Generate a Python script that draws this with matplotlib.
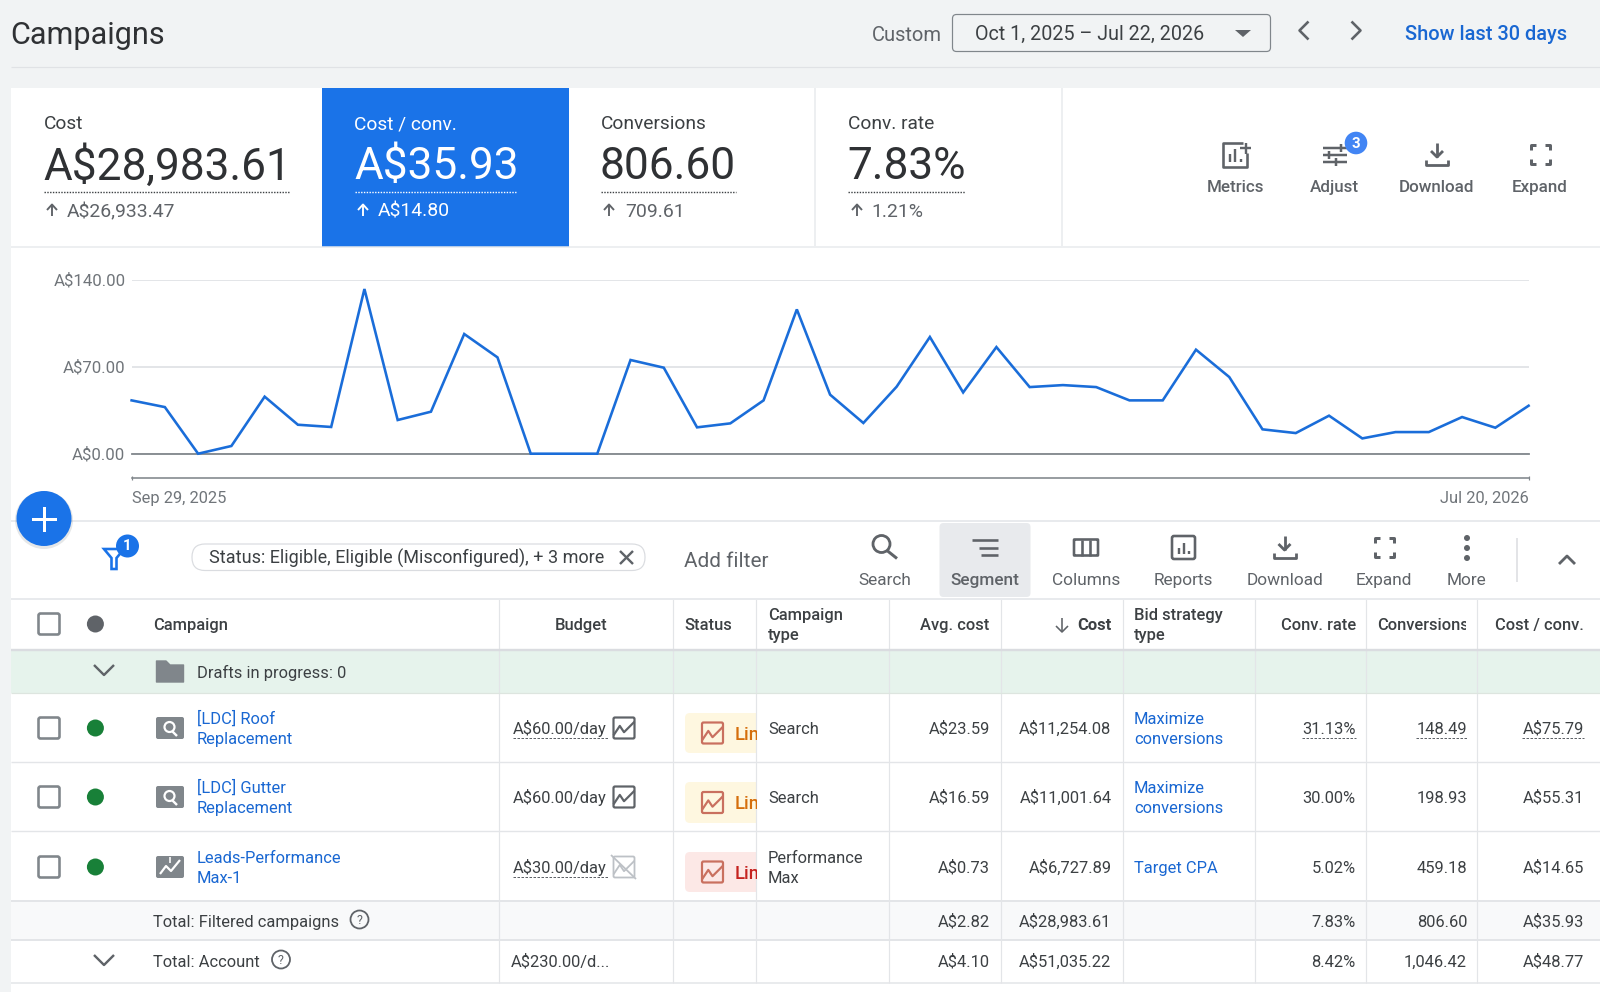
import matplotlib
matplotlib.use("Agg")
import matplotlib.pyplot as plt
from matplotlib.patches import Rectangle, Circle, FancyBboxPatch, Polygon

plt.rcParams['font.family'] = ['Roboto', 'DejaVu Sans']

# ---------- data ----------
chart_values = [42.9, 37.5, 0, 6.2, 45.9, 23.3, 21.5, 132.5, 27.1, 33.8, 96.3, 77.5, 0, 0, 0,
                75.4, 69.2, 21.2, 24.4, 42.9, 116.1, 47.5, 24.7, 53.9, 93.9, 49.3, 85.8, 53.6,
                55.2, 53.6, 42.9, 42.9, 83.7, 61.7, 19.6, 16.6, 30.6, 12.3, 17.4, 17.4, 29.5,
                20.9, 38.6]
y_ticks = [0, 70, 140]
y_tick_labels = ["A$0.00", "A$70.00", "A$140.00"]
x_tick_labels = ["Sep 29, 2025", "Jul 20, 2026"]

score_labels = ["Cost", "Cost / conv.", "Conversions", "Conv. rate"]
score_values = ["A$28,983.61", "A$35.93", "806.60", "7.83%"]
score_deltas = ["A$26,933.47", "A$14.80", "709.61", "1.21%"]

campaign_names = [["[LDC] Roof", "Replacement"], ["[LDC] Gutter", "Replacement"],
                  ["Leads-Performance", "Max-1"]]
budgets = ["A$60.00/day", "A$60.00/day", "A$30.00/day"]
campaign_types = [["Search"], ["Search"], ["Performance", "Max"]]
avg_costs = ["A$23.59", "A$16.59", "A$0.73"]
costs = ["A$11,254.08", "A$11,001.64", "A$6,727.89"]
bid_types = [["Maximize", "conversions"], ["Maximize", "conversions"], ["Target CPA"]]
conv_rates = ["31.13%", "30.00%", "5.02%"]
conversions = ["148.49", "198.93", "459.18"]
cost_per_conv = ["A$75.79", "A$55.31", "A$14.65"]
total_filtered = ["A$2.82", "A$28,983.61", "7.83%", "806.60", "A$35.93"]
total_account = ["A$4.10", "A$51,035.22", "8.42%", "1,046.42", "A$48.77"]

W, H = 1600, 992
fig = plt.figure(figsize=(W / 100, H / 100), dpi=100, facecolor="white")
ax = fig.add_axes([0, 0, 1, 1], zorder=0)
ax.set_xlim(0, W); ax.set_ylim(H, 0); ax.axis("off")

DARK, MID, GREY = "#2f3134", "#3c4043", "#5f6368"
BLUE, LINK = "#1a73e8", "#1967d2"
LINE = "#e8eaed"
PX = 0.72
FS = 16.5


def t(x, y, s, px=FS, c=MID, ha="left", weight="normal", clip=None):
    o = ax.text(x, y + 0.36 * px, s, fontsize=px * PX, color=c, ha=ha, va="baseline",
                fontweight=weight, zorder=5)
    if clip is not None:
        r = Rectangle((clip[0], clip[1]), clip[2] - clip[0], clip[3] - clip[1], transform=ax.transData)
        o.set_clip_on(True)
        o.set_clip_path(r)
    return o


def rect(x0, y0, x1, y1, c, z=1, **kw):
    ax.add_patch(Rectangle((x0, y0), x1 - x0, y1 - y0, fc=c, ec="none", zorder=z, **kw))


def rrect(x0, y0, x1, y1, r, fc="none", ec="none", lw=0, z=2):
    ax.add_patch(FancyBboxPatch((x0, y0), x1 - x0, y1 - y0, boxstyle=f"round,pad=0,rounding_size={r}",
                                fc=fc, ec=ec, lw=lw * PX, zorder=z))


def ln(xs, ys, c=GREY, lw=2.0, z=3, **kw):
    kw.setdefault("solid_capstyle", "butt")
    ax.plot(xs, ys, color=c, lw=lw * PX, zorder=z, **kw)


def dashed(x0, x1, y, c=GREY, lw=1.0, ds=(2.5, 1.5)):
    ax.plot([x0, x1], [y, y], color=c, lw=lw * PX, ls=(0, ds), zorder=4)


def circ(x, y, r, fc="none", ec="none", lw=0, z=3, alpha=None):
    ax.add_patch(Circle((x, y), r, fc=fc, ec=ec, lw=lw * PX, zorder=z, alpha=alpha))


# ---------- icons ----------
def icon_download(x, y, c=GREY):
    ln([x, x], [y - 11, y + 3], c, 2.8)
    ln([x - 6, x, x + 6], [y - 3, y + 3, y - 3], c, 2.8)
    ln([x - 11, x - 11, x + 11, x + 11], [y + 6, y + 11, y + 11, y + 6], c, 2.8)


def icon_expand(x, y, c=GREY):
    a, b = 9.5, 5
    for sx in (-1, 1):
        for sy in (-1, 1):
            ln([x + sx * a, x + sx * a, x + sx * (a - b)], [y + sy * (a - b), y + sy * a, y + sy * a], c, 3)


def icon_chevron(x, y, d, s=8, c=GREY, lw=2.4):
    if d == "left":
        ln([x + s / 2, x - s / 2, x + s / 2], [y - s, y, y + s], c, lw)
    elif d == "right":
        ln([x - s / 2, x + s / 2, x - s / 2], [y - s, y, y + s], c, lw)
    elif d == "down":
        ln([x - s, x, x + s], [y - s / 2, y + s / 2, y - s / 2], c, lw)
    else:
        ln([x - s, x, x + s], [y + s / 2, y - s / 2, y + s / 2], c, lw)


def icon_check(y):
    rrect(38.5, y - 10.5, 59.5, y + 10.5, 2, fc="white", ec="#80868b", lw=2.6)


def icon_mini_chart(x0, y0, x1, y1, c, lw=2.0):
    rrect(x0, y0, x1, y1, 1.5, ec=c, lw=lw, z=4)
    w, h = x1 - x0, y1 - y0
    ln([x0, x0 + .3 * w, x0 + .5 * w, x1], [y0 + .85 * h, y0 + .4 * h, y0 + .7 * h, y0 + .2 * h], c, lw, z=4)


def icon_help(x, y):
    circ(x, y, 9, ec="#5f6368", lw=1.8)
    ax.text(x, y + 0.5, "?", fontsize=12.5 * PX, color=GREY, ha="center", va="center", zorder=5)


# ---------- page chrome ----------
rect(0, 0, W, 88, "#f1f3f4")
rect(0, 0, 11, H, "#f1f3f4")
ln([11, W], [67, 67], "#e0e2e5", 1.2)
t(10.5, 33, "Campaigns", 30.6, DARK)
t(942, 33.5, "Custom", 20.2, GREY, ha="right")
rrect(952.5, 14.5, 1270.5, 51.5, 4, fc="#f1f3f4", ec="#80868b", lw=1.2)
t(975, 33, "Oct 1, 2025 – Jul 22, 2026", 19.8, MID)
ax.add_patch(Polygon([[1235, 30], [1251, 30], [1243, 37]], fc=GREY, ec="none", zorder=4))
icon_chevron(1304, 30.5, "left", 9, GREY, 2.6)
icon_chevron(1356, 30.5, "right", 9, GREY, 2.6)
t(1567, 32.5, "Show last 30 days", 20, LINK, ha="right", weight="medium")

# ---------- score cards ----------
rect(322, 88, 568.5, 246.5, BLUE, z=2)
for x in (815, 1062):
    ln([x, x], [88, 246], LINE, 1.5)
ln([11, W], [246.5, 246.5], LINE, 1.5)
card_x = [44, 355, 601, 848]
card_end = [290, 517, 736, 965]
arrow_x = [52, 363, 609, 857]
delta_x = [67, 378, 625.5, 871.5]
for i, lab in enumerate(score_labels):
    active = i == 1
    c1 = "white" if active else MID
    c2 = "white" if active else DARK
    c3 = "white" if active else GREY
    t(card_x[i] - 0.5, 122.5, lab, 19.2, c1)
    t(card_x[i] - 1, 163.5, score_values[i], 44.3, c2)
    dashed(card_x[i], card_end[i], 192, "white" if active else "#3c4043", 1.4, (1, 1))
    ln([arrow_x[i], arrow_x[i]], [216, 205], c3, 1.9)
    ln([arrow_x[i] - 5, arrow_x[i], arrow_x[i] + 5], [210, 204.5, 210], c3, 1.9)
    t(delta_x[i], 210, score_deltas[i], 19.4, c3)

# metrics actions
for x, lab in zip([1236, 1334.7, 1437, 1539.3], ["Metrics", "Adjust", "Download", "Expand"]):
    t(x, 186, lab, 17, GREY, ha="center", weight="medium")
# metric icon
ln([1243, 1223, 1223, 1247, 1247], [143, 143, 167, 167, 153], GREY, 2.6)
for bx, by in ((1229.5, 154), (1235, 149), (1240.5, 159)):
    ln([bx, bx], [by, 162], GREY, 2.4)
ln([1240, 1251], [148, 148], GREY, 2.4)
ln([1245.5, 1245.5], [143, 154], GREY, 2.4)
# adjust icon
for ly, a, b, k in ((148, 1323, 1347, 1341), (155, 1323, 1347, 1329), (162, 1323, 1347, 1336)):
    ln([a, b], [ly, ly], GREY, 2.5)
    ln([k, k], [ly - 4, ly + 4], GREY, 2.5)
circ(1356, 143, 11.3, fc="#4285f4", z=5)
ax.text(1356, 143.5, "3", color="white", fontsize=15 * PX, fontweight="bold", ha="center", va="center", zorder=6)
icon_download(1437, 154)
icon_expand(1540, 154.5)

# ---------- chart ----------
L, R, T, B = 131.6, 1528.6, 279.7, 453.7
cax = fig.add_axes([L / W, 1 - B / H, (R - L) / W, (B - T) / H], zorder=2)
cax.patch.set_alpha(0)
cax.plot(range(len(chart_values)), chart_values, color="#1a6dd9", lw=2.6 * PX, zorder=4,
         clip_on=False, solid_joinstyle="miter")
cax.set_xlim(0, len(chart_values) - 1)
cax.set_ylim(0, 140)
cax.set_yticks(y_ticks)
cax.set_yticklabels(y_tick_labels, fontsize=16.7 * PX, color="#70757a")
cax.tick_params(axis="y", length=0, pad=4.5)
cax.grid(axis="y", color="#e3e5e8", lw=2 * PX, zorder=1)
for side in ("top", "left", "right"):
    cax.spines[side].set_visible(False)
cax.spines["bottom"].set_position(("outward", 24.6 * PX))
cax.spines["bottom"].set_color("#80868b")
cax.spines["bottom"].set_linewidth(1.6 * PX)
cax.axhline(0, color="#80868b", lw=1.8 * PX, zorder=2, clip_on=False)
cax.set_xticks([0, len(chart_values) - 1])
cax.set_xticklabels(x_tick_labels, fontsize=16.4 * PX, color="#70757a")
cax.get_xticklabels()[0].set_ha("left")
cax.get_xticklabels()[1].set_ha("right")
cax.tick_params(axis="x", length=3, direction="inout", color="#80868b", pad=7.5, width=1.2 * PX)

# FAB
circ(44, 520, 29, fc="#9aa0a6", alpha=0.25, z=6)
circ(44, 518.5, 27.5, fc=BLUE, z=7)
ax.plot([33, 55], [518.5, 518.5], color="white", lw=3 * PX, zorder=8)
ax.plot([44, 44], [507.5, 529.5], color="white", lw=3 * PX, zorder=8)

# ---------- toolbar ----------
ln([11, W], [521, 521], LINE, 2)
ln([11, W], [598.5, 598.5], LINE, 2)
rrect(939.5, 523, 1030.5, 597, 4, fc="#e8eaed", z=1)
# filter
ax.add_patch(Polygon([[104, 549], [124, 549], [116.5, 558], [116.5, 569], [111.5, 569], [111.5, 558]],
                     fc="white", ec=BLUE, lw=2.6 * PX, zorder=3))
circ(127.5, 546, 11.5, fc=BLUE, z=5)
ax.text(127.5, 546.5, "1", color="white", fontsize=15 * PX, fontweight="bold", ha="center", va="center", zorder=6)
rrect(192, 544, 645, 570.5, 13, fc="white", ec="#dadce0", lw=1.2)
t(209, 557, "Status: Eligible, Eligible (Misconfigured), + 3 more", 18, MID)
ln([620, 633], [551, 564], GREY, 2.4)
ln([620, 633], [564, 551], GREY, 2.4)
t(684, 559.5, "Add filter", 20.8, GREY)

tb_x = [884.6, 984.5, 1085.8, 1183, 1284.5, 1384, 1467]
tb_labels = ["Search", "Segment", "Columns", "Reports", "Download", "Expand", "More"]
for x, lab in zip(tb_x, tb_labels):
    t(x, 578.5, lab, 17.2, GREY, ha="center", weight="medium" if lab == "Segment" else "normal")
# search
circ(881.5, 544, 8.5, ec=GREY, lw=2.8)
ln([887, 897], [550.5, 558.5], GREY, 3)
# segment
ln([972, 998], [540, 540], GREY, 2.6)
ln([979, 998], [548, 548], GREY, 2.6)
ln([981, 998], [555, 555], GREY, 2.6)
# columns
rrect(1074, 539.5, 1098, 555.5, 0.5, ec=GREY, lw=2.6, z=3)
for x in (1082, 1090):
    ln([x, x], [539.5, 555.5], GREY, 2.6)
# reports
rrect(1172, 536, 1195, 559, 2, ec=GREY, lw=2.6, z=3)
for x, y0 in ((1178.5, 548), (1183.5, 543), (1188.5, 551)):
    ln([x, x], [y0, 554], GREY, 2.4)
icon_download(1284.5, 547)
icon_expand(1384, 547)
for y in (538, 548, 558):
    circ(1467, y, 3, fc=GREY)
ln([1517, 1517], [538, 582], "#dadce0", 1.5)
icon_chevron(1567, 560, "up", 8, GREY, 2.8)

# ---------- table ----------
col_lines = [498.7, 672.8, 756.3, 889, 1000.5, 1122.5, 1255, 1365.5, 1477]
rect(11, 649, W, 693, "#e6f3ec")
rect(11, 901, W, 940, "#f8f9fa")
for x in col_lines:
    ln([x, x], [599, 983], "#e3e5e8", 1.2, z=2)
ln([11, W], [649.5, 649.5], "#dadce0", 2.4, z=3)
ln([11, W], [693, 693], "#dde5df", 1.2, z=3)
for y in (762, 831):
    ln([11, W], [y, y], "#e3e5e8", 1.4, z=3)
for y in (901, 940):
    ln([11, W], [y, y], "#e3e5e8", 2.0, z=3)
ln([11, W], [983, 983], "#e3e5e8", 1.5, z=3)

HEAD = "#3c4043"
icon_check(624)
circ(95.4, 624, 8.5, fc=GREY)
t(152.8, 624, "Campaign", FS, HEAD, weight="medium")
t(581, 624, "Budget", FS, HEAD, ha="center", weight="medium")
t(708.5, 624, "Status", FS, HEAD, ha="center", weight="medium")
t(768, 614.5, "Campaign", FS, HEAD, weight="medium")
t(768, 634.5, "type", FS, HEAD, weight="medium")
t(989.8, 624, "Avg. cost", FS, HEAD, ha="right", weight="medium")
t(1111.5, 624, "Cost", FS, HEAD, ha="right", weight="bold")
ln([1062, 1062], [618, 632], GREY, 1.6)
ln([1056, 1062, 1068], [626, 632, 626], GREY, 1.6)
t(1134, 614.5, "Bid strategy", FS, HEAD, weight="medium")
t(1134, 634.5, "type", FS, HEAD, weight="medium")
t(1355.8, 624, "Conv. rate", FS, HEAD, ha="right", weight="medium")
t(1377.5, 624, "Conversions", FS, HEAD, weight="medium", clip=(1366, 600, 1466, 648))
t(1584, 624, "Cost / conv.", FS, HEAD, ha="right", weight="medium")

# drafts
icon_chevron(104, 670, "down", 10, GREY, 2.4)
ax.add_patch(Polygon([[156.5, 661], [166, 661], [170, 665], [183.5, 665], [183.5, 682], [156.5, 682]],
                     fc="#80868b", ec="#80868b", lw=1, joinstyle="round", zorder=3))
t(197, 672, "Drafts in progress: 0", FS, MID)

row_y = [728, 797, 867]
chip_y = [(713, 753), (782, 823), (852, 892)]
chip_bg = ["#fef7e0", "#fef7e0", "#fce8e6"]
chip_tx = ["#d56e0c", "#d56e0c", "#c5221f"]
under = [True, False, True]
for i, y in enumerate(row_y):
    icon_check(y)
    circ(95.4, y, 8.5, fc="#188038")
    rrect(156, y - 11, 184, y + 11, 2, fc="#80868b", z=3)
    if i < 2:
        circ(169.5, y - 1, 5, ec="white", lw=2.2, z=4)
        ln([172, 177], [y + 3, y + 8], "white", 2.4, z=4)
    else:
        ln([160, 166, 171, 180], [y + 7, y - 1, y + 4, y - 7], "white", 2.2, z=4)
        ln([170, 170], [y - 10, y - 4], "white", 1.6, z=4)
    names = campaign_names[i]
    for k, s in enumerate(names):
        t(197, y - 10 + 20 * k, s, FS, LINK)
    t(513, y, budgets[i], FS, MID)
    if under[i]:
        dashed(513, 607.5, y + 9.5, GREY, 1.0)
    if i < 2:
        icon_mini_chart(613.5, y - 10.5, 634.5, y + 10.5, "#5f6368", 2.2)
    else:
        icon_mini_chart(613.5, y - 10.5, 634.5, y + 10.5, "#bdc1c6", 1.8)
        ln([611, 636], [y - 12, y + 12], "#bdc1c6", 1.8, z=5)
    c0, c1 = chip_y[i]
    rrect(685, c0, 770, c1, 5, fc=chip_bg[i], z=1)
    rect(756.8, c0 - 1, 770.5, c1 + 1, "white", z=1.5)
    icon_mini_chart(702, (c0 + c1) / 2 - 10.5, 723, (c0 + c1) / 2 + 10.5, "#c9705f", 2.2)
    t(734.5, (c0 + c1) / 2, "Lim", 18.5, chip_tx[i], weight="medium", clip=(730, c0, 756.5, c1))
    ct = campaign_types[i]
    for k, s in enumerate(ct):
        t(768, y + (0 if len(ct) == 1 else -10 + 20 * k), s, FS, MID)
    t(989.8, y, avg_costs[i], FS, MID, ha="right")
    t(1111.5, y, costs[i], FS, MID, ha="right")
    bt = bid_types[i]
    for k, s in enumerate(bt):
        t(1134, y + (0 if len(bt) == 1 else -10 + 20 * k), s, FS, LINK)
    t(1355.8, y, conv_rates[i], FS, MID, ha="right")
    t(1467, y, conversions[i], FS, MID, ha="right")
    t(1584, y, cost_per_conv[i], FS, MID, ha="right")
    if i == 0:
        dashed(1302, 1355.5, y + 9.5)
        dashed(1416, 1466.5, y + 9.5)
        dashed(1522, 1583.5, y + 9.5)

# totals
t(153, 921, "Total: Filtered campaigns", FS, MID)
icon_help(359.5, 919.5)
t(153, 961, "Total: Account", FS, MID)
icon_help(281, 959.5)
icon_chevron(104, 960, "down", 10, GREY, 2.4)
t(511, 961, "A$230.00/d...", FS, MID)
tot_x = [989.8, 1111.5, 1355.8, 1467, 1584]
for x, a, b in zip(tot_x, total_filtered, total_account):
    t(x, 921, a, FS, MID, ha="right")
    t(x, 961, b, FS, MID, ha="right")

fig.savefig("out.png", dpi=100, facecolor="white")
